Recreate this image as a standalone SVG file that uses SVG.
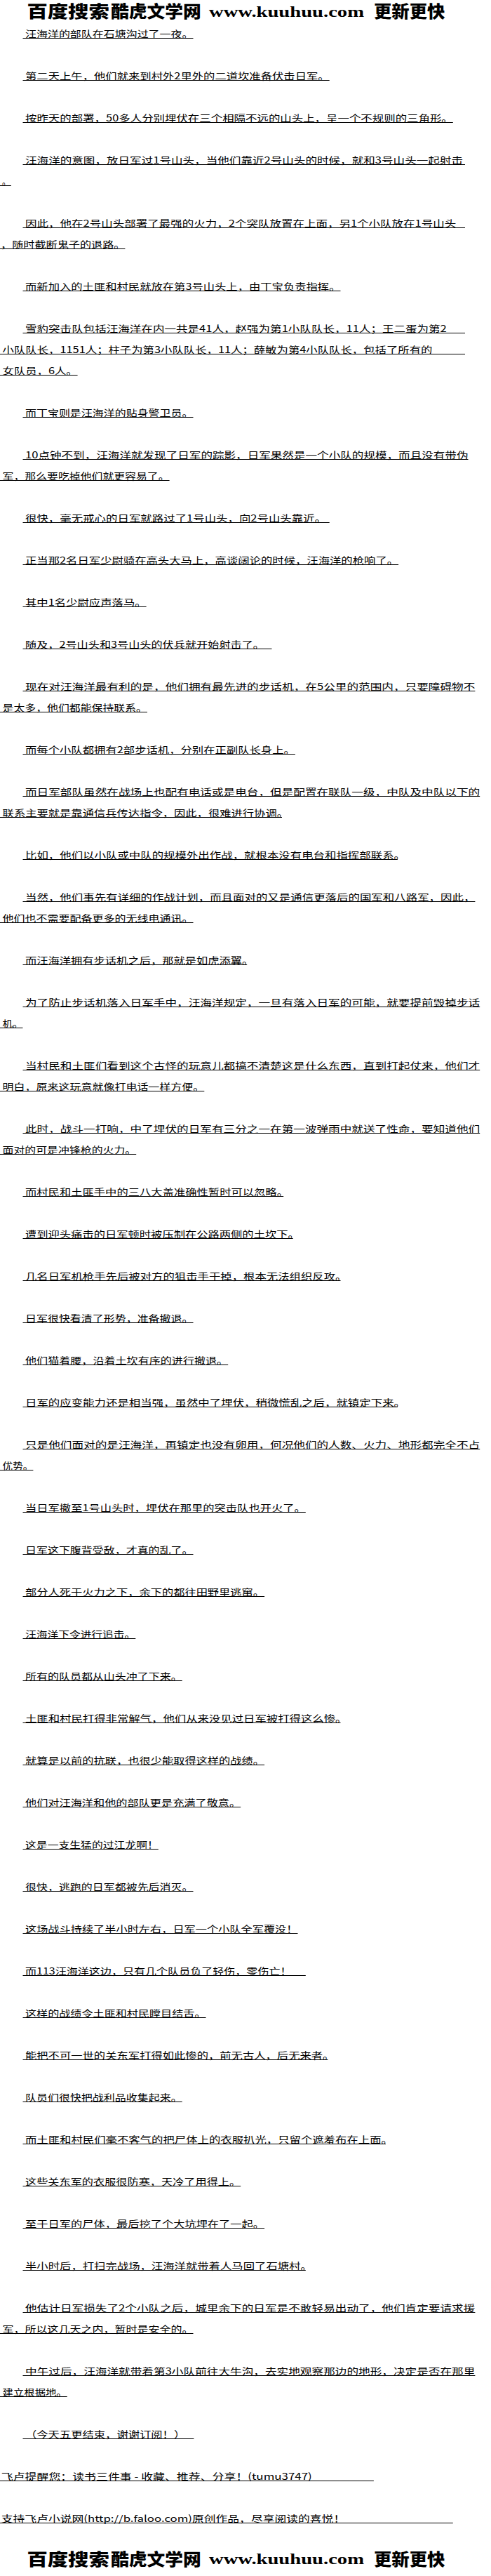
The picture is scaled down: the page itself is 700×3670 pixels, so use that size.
<svg xmlns="http://www.w3.org/2000/svg" width="700" height="3670" viewBox="0 0 700 3670">
<style>
.t{font-family:"Noto Sans CJK SC","Noto Sans CJK JP",sans-serif;font-size:13px;fill:#000}
.u{stroke:#000;stroke-width:1}
.h{font-family:"Noto Sans CJK SC","Noto Sans CJK JP",sans-serif;font-weight:900;font-size:24px;fill:#000}
.w{font-family:"Liberation Serif",serif;font-weight:bold;font-size:21px;fill:#000}
</style>
<rect width="700" height="3670" fill="#fff"/>
<g id="header-top">
<text class="h" x="38.4" y="25" textLength="117.4" lengthAdjust="spacingAndGlyphs">百度搜索</text>
<text class="h" x="158" y="25" textLength="128.8" lengthAdjust="spacingAndGlyphs">酷虎文学网</text>
<text class="w" x="298" y="23.5" textLength="221" lengthAdjust="spacingAndGlyphs">www.kuuhuu.com</text>
<text class="h" x="533" y="25" textLength="101.5" lengthAdjust="spacingAndGlyphs">更新更快</text>
</g>
<g id="p1"><text class="t" x="36" y="53" textLength="239.5" lengthAdjust="spacingAndGlyphs">汪海洋的部队在石塘沟过了一夜。</text><line class="u" x1="32.5" y1="54.5" x2="275.5" y2="54.5"/></g>
<g id="p2"><text class="t" x="36" y="113" textLength="433.7" lengthAdjust="spacingAndGlyphs">第二天上午，他们就来到村外2里外的二道坎准备伏击日军。</text><line class="u" x1="32.5" y1="114.5" x2="469.7" y2="114.5"/></g>
<g id="p3"><text class="t" x="36" y="173" textLength="609.8" lengthAdjust="spacingAndGlyphs">按昨天的部署，50多人分别埋伏在三个相隔不远的山头上，呈一个不规则的三角形。</text><line class="u" x1="32.5" y1="174.5" x2="645.8" y2="174.5"/></g>
<g id="p4"><text class="t" x="36" y="233" textLength="624" lengthAdjust="spacingAndGlyphs">汪海洋的意图，放日军过1号山头，当他们靠近2号山头的时候，就和3号山头一起射击</text><line class="u" x1="32.5" y1="234.5" x2="663" y2="234.5"/>
<text class="t" x="3" y="263" textLength="12" lengthAdjust="spacingAndGlyphs">。</text><line class="u" x1="0" y1="264.5" x2="15.8" y2="264.5"/></g>
<g id="p5"><text class="t" x="36" y="323" textLength="614.3" lengthAdjust="spacingAndGlyphs">因此，他在2号山头部署了最强的火力，2个突队放置在上面，另1个小队放在1号山头</text><line class="u" x1="32.5" y1="324.5" x2="663" y2="324.5"/>
<text class="t" x="1" y="353" textLength="177.4" lengthAdjust="spacingAndGlyphs">，随时截断鬼子的退路。</text><line class="u" x1="0" y1="354.5" x2="178.4" y2="354.5"/></g>
<g id="p6"><text class="t" x="36" y="413" textLength="449.5" lengthAdjust="spacingAndGlyphs">而新加入的土匪和村民就放在第3号山头上，由丁宝负责指挥。</text><line class="u" x1="32.5" y1="414.5" x2="485.5" y2="414.5"/></g>
<g id="p7"><text class="t" x="36" y="473" textLength="600.8" lengthAdjust="spacingAndGlyphs">雪豹突击队包括汪海洋在内一共是41人，赵强为第1小队队长，11人；王二蛋为第2</text><line class="u" x1="32.5" y1="474.5" x2="663" y2="474.5"/>
<text class="t" x="3.6" y="503" textLength="612.8" lengthAdjust="spacingAndGlyphs">小队队长，1151人；柱子为第3小队队长，11人；薛敏为第4小队队长，包括了所有的</text><line class="u" x1="0" y1="504.5" x2="663" y2="504.5"/>
<text class="t" x="3.6" y="533" textLength="107" lengthAdjust="spacingAndGlyphs">女队员，6人。</text><line class="u" x1="0" y1="534.5" x2="110.6" y2="534.5"/></g>
<g id="p8"><text class="t" x="36" y="593" textLength="239.5" lengthAdjust="spacingAndGlyphs">而丁宝则是汪海洋的贴身警卫员。</text><line class="u" x1="32.5" y1="594.5" x2="275.5" y2="594.5"/></g>
<g id="p9"><text class="t" x="36" y="653" textLength="631.5" lengthAdjust="spacingAndGlyphs">10点钟不到，汪海洋就发现了日军的踪影，日军果然是一个小队的规模，而且没有带伪</text><line class="u" x1="32.5" y1="654.5" x2="667.5" y2="654.5"/>
<text class="t" x="3.6" y="683" textLength="238" lengthAdjust="spacingAndGlyphs">军，那么要吃掉他们就更容易了。</text><line class="u" x1="0" y1="684.5" x2="241.6" y2="684.5"/></g>
<g id="p10"><text class="t" x="36" y="743" textLength="429.1" lengthAdjust="spacingAndGlyphs">很快，毫无戒心的日军就路过了1号山头，向2号山头靠近。</text><line class="u" x1="32.5" y1="744.5" x2="469.7" y2="744.5"/></g>
<g id="p11"><text class="t" x="36" y="803" textLength="532.1" lengthAdjust="spacingAndGlyphs">正当那2名日军少尉骑在高头大马上，高谈阔论的时候，汪海洋的枪响了。</text><line class="u" x1="32.5" y1="804.5" x2="568.1" y2="804.5"/></g>
<g id="p12"><text class="t" x="36" y="863" textLength="172.6" lengthAdjust="spacingAndGlyphs">其中1名少尉应声落马。</text><line class="u" x1="32.5" y1="864.5" x2="208.6" y2="864.5"/></g>
<g id="p13"><text class="t" x="36" y="923" textLength="341" lengthAdjust="spacingAndGlyphs">随及，2号山头和3号山头的伏兵就开始射击了。</text><line class="u" x1="32.5" y1="924.5" x2="387.5" y2="924.5"/></g>
<g id="p14"><text class="t" x="36" y="983" textLength="641.4" lengthAdjust="spacingAndGlyphs">现在对汪海洋最有利的是，他们拥有最先进的步话机，在5公里的范围内，只要障碍物不</text><line class="u" x1="32.5" y1="984.5" x2="677.4" y2="984.5"/>
<text class="t" x="3.6" y="1013" textLength="206.4" lengthAdjust="spacingAndGlyphs">是太多，他们都能保持联系。</text><line class="u" x1="0" y1="1014.5" x2="210" y2="1014.5"/></g>
<g id="p15"><text class="t" x="36" y="1073" textLength="384.9" lengthAdjust="spacingAndGlyphs">而每个小队都拥有2部步话机，分别在正副队长身上。</text><line class="u" x1="32.5" y1="1074.5" x2="420.9" y2="1074.5"/></g>
<g id="p16"><text class="t" x="36" y="1133" textLength="648.2" lengthAdjust="spacingAndGlyphs">而日军部队虽然在战场上也配有电话或是电台，但是配置在联队一级，中队及中队以下的</text><line class="u" x1="32.5" y1="1134.5" x2="684.2" y2="1134.5"/>
<text class="t" x="3.6" y="1163" textLength="407.4" lengthAdjust="spacingAndGlyphs">联系主要就是靠通信兵传达指令，因此，很难进行协调。</text><line class="u" x1="0" y1="1164.5" x2="402" y2="1164.5"/></g>
<g id="p17"><text class="t" x="36" y="1223" textLength="542" lengthAdjust="spacingAndGlyphs">比如，他们以小队或中队的规模外出作战，就根本没有电台和指挥部联系。</text><line class="u" x1="32.5" y1="1224.5" x2="566.8" y2="1224.5"/></g>
<g id="p18"><text class="t" x="36" y="1283" textLength="641.4" lengthAdjust="spacingAndGlyphs">当然，他们事先有详细的作战计划，而且面对的又是通信更落后的国军和八路军，因此，</text><line class="u" x1="32.5" y1="1284.5" x2="677.4" y2="1284.5"/>
<text class="t" x="3.6" y="1313" textLength="271.9" lengthAdjust="spacingAndGlyphs">他们也不需要配备更多的无线电通讯。</text><line class="u" x1="0" y1="1314.5" x2="275.5" y2="1314.5"/></g>
<g id="p19"><text class="t" x="36" y="1373" textLength="325.3" lengthAdjust="spacingAndGlyphs">而汪海洋拥有步话机之后，那就是如虎添翼。</text><line class="u" x1="32.5" y1="1374.5" x2="352.2" y2="1374.5"/></g>
<g id="p20"><text class="t" x="36" y="1433" textLength="648.2" lengthAdjust="spacingAndGlyphs">为了防止步话机落入日军手中，汪海洋规定，一旦有落入日军的可能，就要提前毁掉步话</text><line class="u" x1="32.5" y1="1434.5" x2="684.2" y2="1434.5"/>
<text class="t" x="3.6" y="1463" textLength="28.9" lengthAdjust="spacingAndGlyphs">机。</text><line class="u" x1="0" y1="1464.5" x2="32.5" y2="1464.5"/></g>
<g id="p21"><text class="t" x="36" y="1523" textLength="648.2" lengthAdjust="spacingAndGlyphs">当村民和土匪们看到这个古怪的玩意儿都搞不清楚这是什么东西，直到打起仗来，他们才</text><line class="u" x1="32.5" y1="1524.5" x2="684.2" y2="1524.5"/>
<text class="t" x="3.6" y="1553" textLength="287.7" lengthAdjust="spacingAndGlyphs">明白，原来这玩意就像打电话一样方便。</text><line class="u" x1="0" y1="1554.5" x2="291.3" y2="1554.5"/></g>
<g id="p22"><text class="t" x="36" y="1613" textLength="648.2" lengthAdjust="spacingAndGlyphs">此时，战斗一打响，中了埋伏的日军有三分之一在第一波弹雨中就送了性命，要知道他们</text><line class="u" x1="32.5" y1="1614.5" x2="684.2" y2="1614.5"/>
<text class="t" x="3.6" y="1643" textLength="190.6" lengthAdjust="spacingAndGlyphs">面对的可是冲锋枪的火力。</text><line class="u" x1="0" y1="1644.5" x2="194.2" y2="1644.5"/></g>
<g id="p23"><text class="t" x="36" y="1703" textLength="375" lengthAdjust="spacingAndGlyphs">而村民和土匪手中的三八大盖准确性暂时可以忽略。</text><line class="u" x1="32.5" y1="1704.5" x2="404.2" y2="1704.5"/></g>
<g id="p24"><text class="t" x="36" y="1763" textLength="390.8" lengthAdjust="spacingAndGlyphs">遭到迎头痛击的日军顿时被压制在公路两侧的土坎下。</text><line class="u" x1="32.5" y1="1764.5" x2="417.7" y2="1764.5"/></g>
<g id="p25"><text class="t" x="36" y="1823" textLength="458.5" lengthAdjust="spacingAndGlyphs">几名日军机枪手先后被对方的狙击手干掉，根本无法组织反攻。</text><line class="u" x1="32.5" y1="1824.5" x2="485.5" y2="1824.5"/></g>
<g id="p26"><text class="t" x="36" y="1883" textLength="239.5" lengthAdjust="spacingAndGlyphs">日军很快看清了形势，准备撤退。</text><line class="u" x1="32.5" y1="1884.5" x2="275.5" y2="1884.5"/></g>
<g id="p27"><text class="t" x="36" y="1943" textLength="289.2" lengthAdjust="spacingAndGlyphs">他们猫着腰，沿着土坎有序的进行撤退。</text><line class="u" x1="32.5" y1="1944.5" x2="325.2" y2="1944.5"/></g>
<g id="p28"><text class="t" x="36" y="2003" textLength="542" lengthAdjust="spacingAndGlyphs">日军的应变能力还是相当强，虽然中了埋伏，稍微慌乱之后，就镇定下来。</text><line class="u" x1="32.5" y1="2004.5" x2="566.8" y2="2004.5"/></g>
<g id="p29"><text class="t" x="36" y="2063" textLength="648.2" lengthAdjust="spacingAndGlyphs">只是他们面对的是汪海洋，再镇定也没有卵用，何况他们的人数、火力、地形都完全不占</text><line class="u" x1="32.5" y1="2064.5" x2="684.2" y2="2064.5"/>
<text class="t" x="3.6" y="2093" textLength="43.8" lengthAdjust="spacingAndGlyphs">优势。</text><line class="u" x1="0" y1="2094.5" x2="47.4" y2="2094.5"/></g>
<g id="p30"><text class="t" x="36" y="2153" textLength="399.8" lengthAdjust="spacingAndGlyphs">当日军撤至1号山头时，埋伏在那里的突击队也开火了。</text><line class="u" x1="32.5" y1="2154.5" x2="435.8" y2="2154.5"/></g>
<g id="p31"><text class="t" x="36" y="2213" textLength="239.5" lengthAdjust="spacingAndGlyphs">日军这下腹背受敌，才真的乱了。</text><line class="u" x1="32.5" y1="2214.5" x2="275.5" y2="2214.5"/></g>
<g id="p32"><text class="t" x="36" y="2273" textLength="341.1" lengthAdjust="spacingAndGlyphs">部分人死于火力之下，余下的都往田野里逃窜。</text><line class="u" x1="32.5" y1="2274.5" x2="377.1" y2="2274.5"/></g>
<g id="p33"><text class="t" x="36" y="2333" textLength="157.3" lengthAdjust="spacingAndGlyphs">汪海洋下令进行追击。</text><line class="u" x1="32.5" y1="2334.5" x2="193.3" y2="2334.5"/></g>
<g id="p34"><text class="t" x="36" y="2393" textLength="223.7" lengthAdjust="spacingAndGlyphs">所有的队员都从山头冲了下来。</text><line class="u" x1="32.5" y1="2394.5" x2="259.7" y2="2394.5"/></g>
<g id="p35"><text class="t" x="36" y="2453" textLength="458.5" lengthAdjust="spacingAndGlyphs">土匪和村民打得非常解气，他们从来没见过日军被打得这么惨。</text><line class="u" x1="32.5" y1="2454.5" x2="485.5" y2="2454.5"/></g>
<g id="p36"><text class="t" x="36" y="2513" textLength="341.1" lengthAdjust="spacingAndGlyphs">就算是以前的抗联，也很少能取得这样的战绩。</text><line class="u" x1="32.5" y1="2514.5" x2="377.1" y2="2514.5"/></g>
<g id="p37"><text class="t" x="36" y="2573" textLength="307.2" lengthAdjust="spacingAndGlyphs">他们对汪海洋和他的部队更是充满了敬意。</text><line class="u" x1="32.5" y1="2574.5" x2="343.2" y2="2574.5"/></g>
<g id="p38"><text class="t" x="36" y="2633" textLength="189.8" lengthAdjust="spacingAndGlyphs">这是一支生猛的过江龙啊！</text><line class="u" x1="32.5" y1="2634.5" x2="225.8" y2="2634.5"/></g>
<g id="p39"><text class="t" x="36" y="2693" textLength="239.5" lengthAdjust="spacingAndGlyphs">很快，逃跑的日军都被先后消灭。</text><line class="u" x1="32.5" y1="2694.5" x2="275.5" y2="2694.5"/></g>
<g id="p40"><text class="t" x="36" y="2753" textLength="388.5" lengthAdjust="spacingAndGlyphs">这场战斗持续了半小时左右，日军一个小队全军覆没！</text><line class="u" x1="32.5" y1="2754.5" x2="424.5" y2="2754.5"/></g>
<g id="p41"><text class="t" x="36" y="2813" textLength="379.5" lengthAdjust="spacingAndGlyphs">而113汪海洋这边，只有几个队员负了轻伤，零伤亡！</text><line class="u" x1="32.5" y1="2814.5" x2="435.8" y2="2814.5"/></g>
<g id="p42"><text class="t" x="36" y="2873" textLength="257.5" lengthAdjust="spacingAndGlyphs">这样的战绩令土匪和村民瞠目结舌。</text><line class="u" x1="32.5" y1="2874.5" x2="293.5" y2="2874.5"/></g>
<g id="p43"><text class="t" x="36" y="2933" textLength="440.4" lengthAdjust="spacingAndGlyphs">能把不可一世的关东军打得如此惨的，前无古人，后无来者。</text><line class="u" x1="32.5" y1="2934.5" x2="467.4" y2="2934.5"/></g>
<g id="p44"><text class="t" x="36" y="2993" textLength="223.7" lengthAdjust="spacingAndGlyphs">队员们很快把战利品收集起来。</text><line class="u" x1="32.5" y1="2994.5" x2="259.7" y2="2994.5"/></g>
<g id="p45"><text class="t" x="36" y="3053" textLength="524" lengthAdjust="spacingAndGlyphs">而土匪和村民们毫不客气的把尸体上的衣服扒光，只留个遮羞布在上面。</text><line class="u" x1="32.5" y1="3054.5" x2="550" y2="3054.5"/></g>
<g id="p46"><text class="t" x="36" y="3113" textLength="307.2" lengthAdjust="spacingAndGlyphs">这些关东军的衣服很防寒，天冷了用得上。</text><line class="u" x1="32.5" y1="3114.5" x2="343.2" y2="3114.5"/></g>
<g id="p47"><text class="t" x="36" y="3173" textLength="341.1" lengthAdjust="spacingAndGlyphs">至于日军的尸体，最后挖了个大坑埋在了一起。</text><line class="u" x1="32.5" y1="3174.5" x2="377.1" y2="3174.5"/></g>
<g id="p48"><text class="t" x="36" y="3233" textLength="408.8" lengthAdjust="spacingAndGlyphs">半小时后，打扫完战场，汪海洋就带着人马回了石塘村。</text><line class="u" x1="32.5" y1="3234.5" x2="435.8" y2="3234.5"/></g>
<g id="p49"><text class="t" x="36" y="3293" textLength="641.4" lengthAdjust="spacingAndGlyphs">他估计日军损失了2个小队之后，城里余下的日军是不敢轻易出动了，他们肯定要请求援</text><line class="u" x1="32.5" y1="3294.5" x2="677.4" y2="3294.5"/>
<text class="t" x="3.6" y="3323" textLength="271.9" lengthAdjust="spacingAndGlyphs">军，所以这几天之内，暂时是安全的。</text><line class="u" x1="0" y1="3324.5" x2="275.5" y2="3324.5"/></g>
<g id="p50"><text class="t" x="36" y="3383" textLength="641.4" lengthAdjust="spacingAndGlyphs">中午过后，汪海洋就带着第3小队前往大牛沟，去实地观察那边的地形，决定是否在那里</text><line class="u" x1="32.5" y1="3384.5" x2="677.4" y2="3384.5"/>
<text class="t" x="3.6" y="3413" textLength="92.1" lengthAdjust="spacingAndGlyphs">建立根据地。</text><line class="u" x1="0" y1="3414.5" x2="95.7" y2="3414.5"/></g>
<g id="p51"><text class="t" x="36" y="3473" textLength="228.2" lengthAdjust="spacingAndGlyphs">（今天五更结束，谢谢订阅！）</text><line class="u" x1="32.5" y1="3474.5" x2="276.4" y2="3474.5"/></g>
<g id="p52"><text class="t" x="1.8" y="3533" textLength="443" lengthAdjust="spacingAndGlyphs">飞卢提醒您：读书三件事 - 收藏、推荐、分享！(tumu3747)</text><line class="u" x1="0" y1="3534.5" x2="532.9" y2="3534.5"/></g>
<g id="p53"><text class="t" x="1.8" y="3593" textLength="490.4" lengthAdjust="spacingAndGlyphs">支持飞卢小说网(http://b.faloo.com)原创作品，尽享阅读的喜悦！</text><line class="u" x1="0" y1="3594.5" x2="645.8" y2="3594.5"/></g>
<g id="header-bottom">
<text class="h" x="38.4" y="3655" textLength="117.4" lengthAdjust="spacingAndGlyphs">百度搜索</text>
<text class="h" x="158" y="3655" textLength="128.8" lengthAdjust="spacingAndGlyphs">酷虎文学网</text>
<text class="w" x="298" y="3652.5" textLength="221" lengthAdjust="spacingAndGlyphs">www.kuuhuu.com</text>
<text class="h" x="533" y="3655" textLength="101.5" lengthAdjust="spacingAndGlyphs">更新更快</text>
</g>
</svg>
